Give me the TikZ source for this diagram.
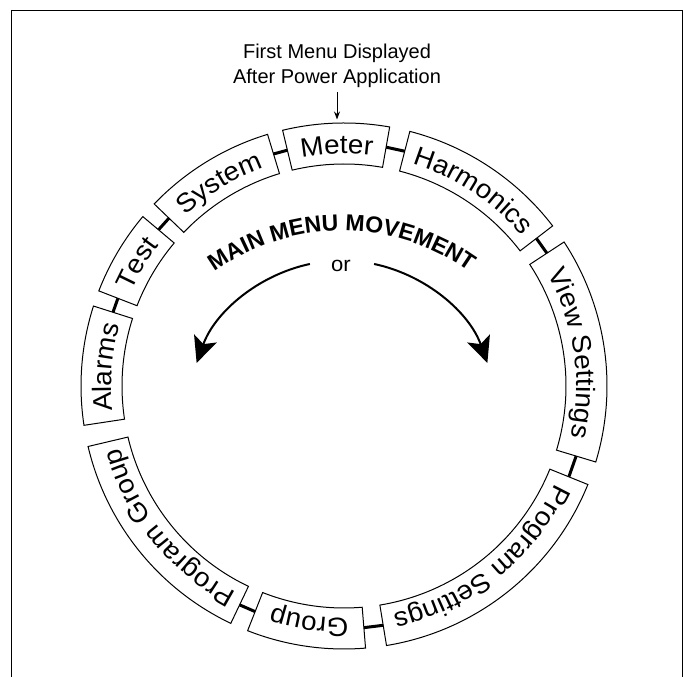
\documentclass[tikz,border=0pt]{standalone}
\usepackage{fontspec}
\setmainfont{Liberation Sans}
\newfontfamily\wideSans[FakeStretch=1.05]{Liberation Sans}
\usetikzlibrary{decorations.text,arrows.meta}
\newcommand\lblfont{\wideSans\fontsize{26.5}{30}\selectfont}
\newcommand\capfont{\fontsize{20}{25}\selectfont}
\newcommand\orfont{\wideSans\fontsize{21}{24}\selectfont}
\newcommand\movefont{\bfseries\fontsize{23}{28}\selectfont}
% #1 low angle, #2 high angle, #3 text, #4 name
\newcommand\menubox[4]{%
  \draw[boxline] (#1:263) arc[start angle=#1,end angle=#2,radius=263]
     -- (#2:222) arc[start angle=#2,end angle=#1,radius=222] -- cycle;
  \path[decorate,decoration={text along path,text align=center,text={|\lblfont|#3}}]
     (#2:232.5) arc[start angle=#2,end angle=#1,radius=232.5];
  \coordinate (#4-a) at (#1:242.5);
  \coordinate (#4-b) at (#2:242.5);
}
\begin{document}
\begin{tikzpicture}[x=1pt,y=1pt,
  boxline/.style={draw=black,line width=1pt},
  conn/.style={line width=3pt},
  bigarrow/.style={line width=2pt,-{Stealth[length=26pt,width=24pt,inset=6pt]}},
  pointer/.style={line width=1pt,-{Stealth[length=8pt,width=6pt]}}]
\useasboundingbox (0,0) rectangle (684,676);
\draw[line width=1.5pt] (11.5,-3) -- (11.5,665.5) -- (682.5,665.5) -- (682.5,-3);
\node[font=\capfont,anchor=base,inner sep=0pt] (cap1) at (337,617.7) {First Menu Displayed};
\node[font=\capfont,anchor=base,inner sep=0pt] (cap2) at (337,592.7) {After Power Application};
\coordinate (meterTop) at (337,556.5);
\draw[pointer,shorten <=4.5pt] (cap2.south) -- (meterTop);

\begin{scope}[shift={(344,290)}]
  \menubox{80}{103.5}{Meter}{meter}
  \menubox{37.5}{75.5}{Harmonics}{harm}
  \menubox{-16.8}{33.2}{View Settings}{view}
  \menubox{-80.7}{-22}{Program Settings}{progset}
  \menubox{-111.5}{-85.3}{Group}{group}
  \menubox{-166.7}{-115.5}{Program Group}{proggrp}
  \menubox{162.3}{188.6}{Alarms}{alarms}
  \menubox{139.9}{158.8}{Test}{test}
  \menubox{106.9}{136.2}{System}{system}
\end{scope}
\draw[conn] (meter-a) -- (harm-b);
\draw[conn] (harm-a) -- (view-b);
\draw[conn] (view-a) -- (progset-b);
\draw[conn] (progset-a) -- (group-b);
\draw[conn] (group-a) -- (proggrp-b);
\draw[conn] (proggrp-a) -- ([shift={(344,290)}]193.3:242.5);
\draw[conn] (alarms-a) -- (test-b);
\draw[conn] (test-a) -- (system-b);
\draw[conn] (system-a) -- (meter-b);

\begin{scope}[shift={(342,225)}]
  \path[decorate,decoration={text along path,text align=center,text={|\movefont|MAIN MENU MOVEMENT}}]
     (160:220) arc[start angle=160,end angle=20,radius=220];
\end{scope}
\node[font=\orfont,inner sep=0pt] (or) at (341,410) {or};
\begin{scope}[shift={(342,261)}]
  \coordinate (ls) at (102:154.4);
  \coordinate (rs) at (78:154.4);
  \draw[bigarrow] (ls) arc[start angle=102,end angle=160.3,radius=154.4];
  \draw[bigarrow] (rs) arc[start angle=78,end angle=19.7,radius=154.4];
\end{scope}
\end{tikzpicture}
\end{document}
